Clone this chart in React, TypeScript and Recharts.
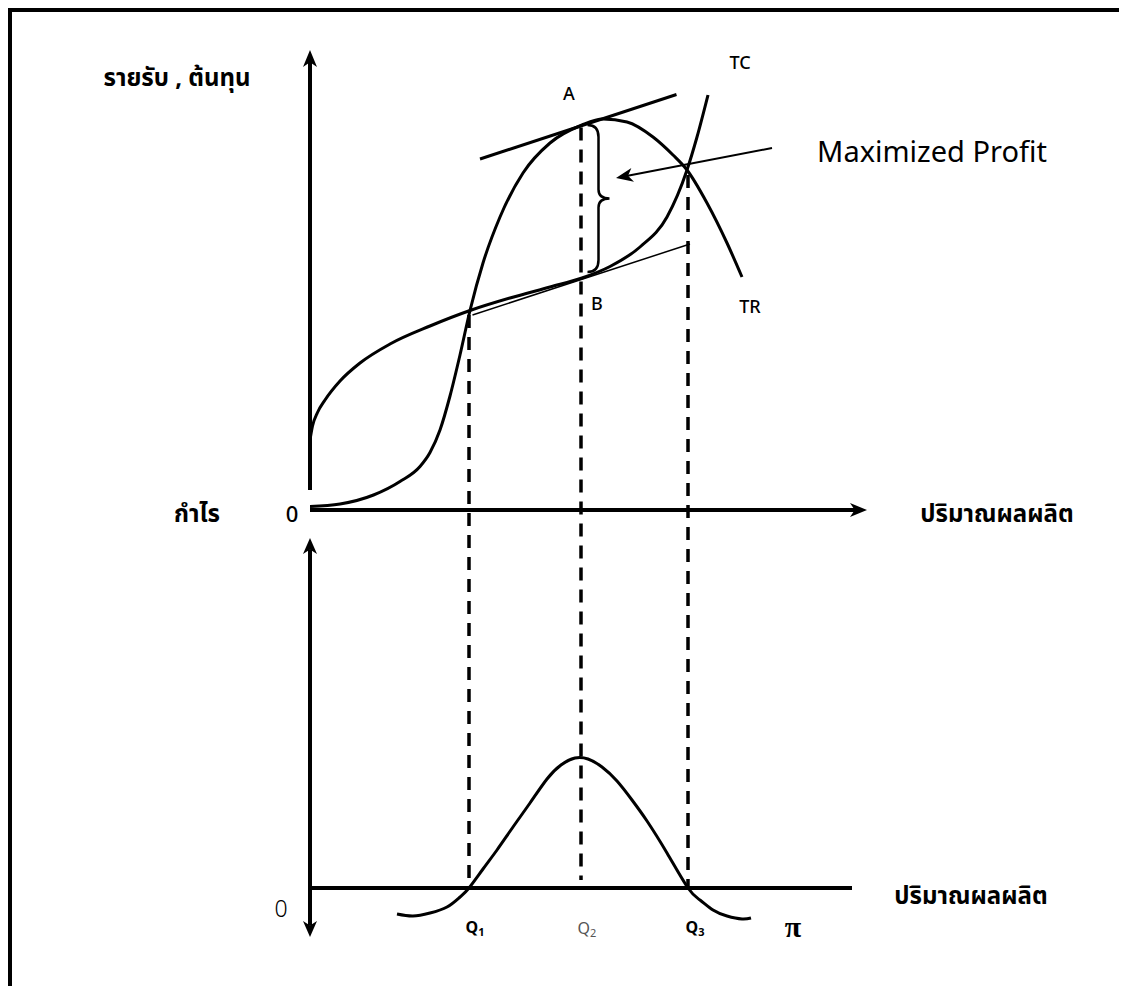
import { ComposedChart, Line, XAxis, YAxis, ReferenceLine } from 'recharts'

// quantity runs 0..112 on x; revenue / cost use the "m" axis, profit the "p" axis
const trQ = [0, 6, 12.7, 18, 22, 24, 26, 28, 30, 32, 34.6, 38, 42.6, 48, 54.4, 58.6, 63.4, 68.6, 72.6, 75.4, 79.4, 83.4, 86.4]
const trValues = [0.7, 1.2, 3, 5.7, 8.7, 11.5, 16, 22.8, 31, 39.9, 49.4, 58.6, 67.4, 73.4, 77, 78.2, 77.6, 74.6, 71, 68, 61.4, 53.4, 46.6]

const tcQ = [0, 0.5, 1.5, 3, 6, 10, 16, 24, 32, 40, 48, 54.4, 60, 66, 71.4, 75.4, 77.4, 79.6]
const tcValues = [14, 16.8, 19.5, 22, 25.8, 29.4, 33.2, 36.8, 39.9, 42.4, 44.6, 46.4, 48.7, 52.6, 58.6, 68, 74.6, 83]

const profitQ = [17.4, 20.6, 24, 27.4, 30, 31.8, 34.6, 37.4, 40.6, 44, 47.4, 50.2, 53, 55.6, 58.4, 61.4, 64.4, 67.4, 71.4, 75.6, 78, 80.6, 83.4, 86.4, 88.2]
const profitValues = [-5.2, -5.6, -5, -3.8, -1.8, 0, 3.8, 7.6, 12.2, 17, 21.8, 24.6, 26, 25.8, 24.2, 21.4, 17.6, 13.4, 7, 0, -2.4, -4.4, -5.6, -6.2, -6]

// Q1, Q2, Q3 and where each dashed guide starts on the upper panel
const quantities = [31.8, 54.2, 75.6]
const guideTops = [39, 76.5, 67]
const guideBottoms = [-75.6, -74, -75.6]

// tangents at A (on TR) and B (on TC)
const tangentA = [{ x: 34, y: 70.2 }, { x: 73.3, y: 83.1 }]
const tangentB = [{ x: 32.5, y: 39 }, { x: 76, y: 53.2 }]

const FONT = "'Noto Sans', 'Noto Sans Thai', Tahoma, sans-serif"
const W = 1108
const H = 974

const toRows = (qs: number[], vs: number[]) => qs.map((q, i) => ({ q, v: vs[i] }))

const headPoints = (tx: number, ty: number, fx: number, fy: number, len: number, half: number) => {
    const d = Math.hypot(tx - fx, ty - fy) || 1
    const ux = (tx - fx) / d
    const uy = (ty - fy) / d
    const bx = tx - ux * len
    const by = ty - uy * len
    const nx = tx - ux * len * 0.72
    const ny = ty - uy * len * 0.72
    return `${tx},${ty} ${bx - uy * half},${by + ux * half} ${nx},${ny} ${bx + uy * half},${by - ux * half}`
}

const arrowShape = (both: boolean, len: number, half: number) => (p: any) => {
    const { x1, y1, x2, y2, stroke, strokeWidth } = p
    const d = Math.hypot(x2 - x1, y2 - y1) || 1
    const ux = (x2 - x1) / d
    const uy = (y2 - y1) / d
    const cut = len * 0.7
    return (
        <g>
            <line
                x1={both ? x1 + ux * cut : x1}
                y1={both ? y1 + uy * cut : y1}
                x2={x2 - ux * cut}
                y2={y2 - uy * cut}
                stroke={stroke}
                strokeWidth={strokeWidth}
            />
            <polygon points={headPoints(x2, y2, x1, y1, len, half)} fill={stroke} />
            {both && <polygon points={headPoints(x1, y1, x2, y2, len, half)} fill={stroke} />}
        </g>
    )
}

const braceShape = (p: any) => {
    const { x1, y1, y2, stroke, strokeWidth } = p
    const x = x1
    const ym = (y1 + y2) / 2
    const d = `M${x - 11},${y1} Q${x},${y1} ${x},${y1 + 12} L${x},${ym - 9} Q${x},${ym} ${x + 11},${ym} Q${x},${ym} ${x},${ym + 9} L${x},${y2 - 12} Q${x},${y2} ${x - 11},${y2}`
    return <path d={d} fill="none" stroke={stroke} strokeWidth={strokeWidth} />
}

// text placed by page coordinates (the frame's inner corner sits at 12,12)
const Txt = ({ x, y, children, style }: any) => (
    <div
        style={{
            position: 'absolute',
            left: x - 12,
            top: y - 12,
            transform: 'translate(-50%, -50%)',
            whiteSpace: 'nowrap',
            lineHeight: 1,
            color: '#000',
            ...style
        }}
    >
        {children}
    </div>
)

const bold = { fontSize: 24, fontWeight: 700 }
const small = { fontSize: 18, fontWeight: 500 }
const qStyle = { fontSize: 16, fontWeight: 700 }
const sub = { fontSize: 11, verticalAlign: -3 }

export default function App() {
    return (
        <div
            style={{
                position: 'relative',
                width: W,
                height: H,
                border: '4px solid #000',
                borderBottom: 'none',
                background: '#fff',
                fontFamily: FONT
            }}
        >
            <ComposedChart
                width={W}
                height={H}
                margin={{ top: 38, right: 250, bottom: 48, left: 298 }}
                style={{ position: 'absolute', left: 0, top: 0 }}
            >
                <XAxis dataKey="q" type="number" domain={[0, 112]} allowDataOverflow hide />
                <YAxis yAxisId="m" type="number" domain={[-85.6, 92]} allowDataOverflow hide />
                <YAxis yAxisId="p" type="number" domain={[-10, 167.6]} allowDataOverflow hide />

                {/* axes */}
                <ReferenceLine yAxisId="m" ifOverflow="visible" segment={[{ x: 0, y: 4 }, { x: 0, y: 92 }]}
                    stroke="#000" strokeWidth={4} shape={arrowShape(false, 17, 7)} />
                <ReferenceLine yAxisId="m" ifOverflow="visible" segment={[{ x: 0, y: 0 }, { x: 111.4, y: 0 }]}
                    stroke="#000" strokeWidth={4} shape={arrowShape(false, 17, 7)} />
                <ReferenceLine yAxisId="p" ifOverflow="visible" segment={[{ x: 0, y: 70 }, { x: 0, y: -9.8 }]}
                    stroke="#000" strokeWidth={4} shape={arrowShape(true, 16, 7)} />
                <ReferenceLine yAxisId="p" ifOverflow="visible" segment={[{ x: 0, y: 0 }, { x: 108.4, y: 0 }]}
                    stroke="#000" strokeWidth={4} />

                {/* dashed guides from Q1..Q3 down to the profit axis */}
                {quantities.map((q, i) => (
                    <ReferenceLine key={q} yAxisId="m" ifOverflow="visible"
                        segment={[{ x: q, y: guideTops[i] }, { x: q, y: guideBottoms[i] }]}
                        stroke="#000" strokeWidth={3.5} strokeDasharray="13 9" />
                ))}

                {/* tangents */}
                <ReferenceLine yAxisId="m" ifOverflow="visible" segment={tangentA} stroke="#000" strokeWidth={3} />
                <ReferenceLine yAxisId="m" ifOverflow="visible" segment={tangentB} stroke="#000" strokeWidth={1.5} />

                <Line data={toRows(trQ, trValues)} dataKey="v" yAxisId="m" type="monotone" stroke="#000"
                    strokeWidth={3} dot={false} activeDot={false} isAnimationActive={false} />
                <Line data={toRows(tcQ, tcValues)} dataKey="v" yAxisId="m" type="monotone" stroke="#000"
                    strokeWidth={3} dot={false} activeDot={false} isAnimationActive={false} />
                <Line data={toRows(profitQ, profitValues)} dataKey="v" yAxisId="p" type="natural" stroke="#000"
                    strokeWidth={3} dot={false} activeDot={false} isAnimationActive={false} />

                {/* brace between A and B, and the arrow from the label */}
                <ReferenceLine yAxisId="m" ifOverflow="visible" segment={[{ x: 57.7, y: 77 }, { x: 57.7, y: 47.6 }]}
                    stroke="#000" strokeWidth={2.5} shape={braceShape} />
                <ReferenceLine yAxisId="m" ifOverflow="visible" segment={[{ x: 92.4, y: 72.4 }, { x: 61.2, y: 66.4 }]}
                    stroke="#000" strokeWidth={2} shape={arrowShape(false, 17, 7)} />
            </ComposedChart>

            <Txt x={177} y={77} style={bold}>รายรับ , ต้นทุน</Txt>
            <Txt x={197} y={513} style={bold}>กำไร</Txt>
            <Txt x={292} y={513} style={{ fontSize: 22, fontWeight: 500 }}>0</Txt>
            <Txt x={997} y={513} style={bold}>ปริมาณผลผลิต</Txt>
            <Txt x={971} y={895} style={bold}>ปริมาณผลผลิต</Txt>
            <Txt x={932} y={150} style={{ fontSize: 29 }}>Maximized Profit</Txt>

            <Txt x={740} y={62} style={small}>TC</Txt>
            <Txt x={569} y={93} style={small}>A</Txt>
            <Txt x={597} y={303} style={small}>B</Txt>
            <Txt x={750} y={306} style={small}>TR</Txt>

            <Txt x={281} y={908} style={{ fontSize: 23, fontWeight: 300 }}>0</Txt>
            <Txt x={475} y={928} style={qStyle}>Q<span style={sub}>1</span></Txt>
            <Txt x={587} y={929} style={{ fontSize: 16, color: '#555' }}>Q<span style={sub}>2</span></Txt>
            <Txt x={695} y={928} style={qStyle}>Q<span style={sub}>3</span></Txt>
            <Txt x={793} y={927} style={{ fontSize: 30, fontWeight: 700, fontFamily: "'Liberation Serif', serif" }}>π</Txt>
        </div>
    )
}
